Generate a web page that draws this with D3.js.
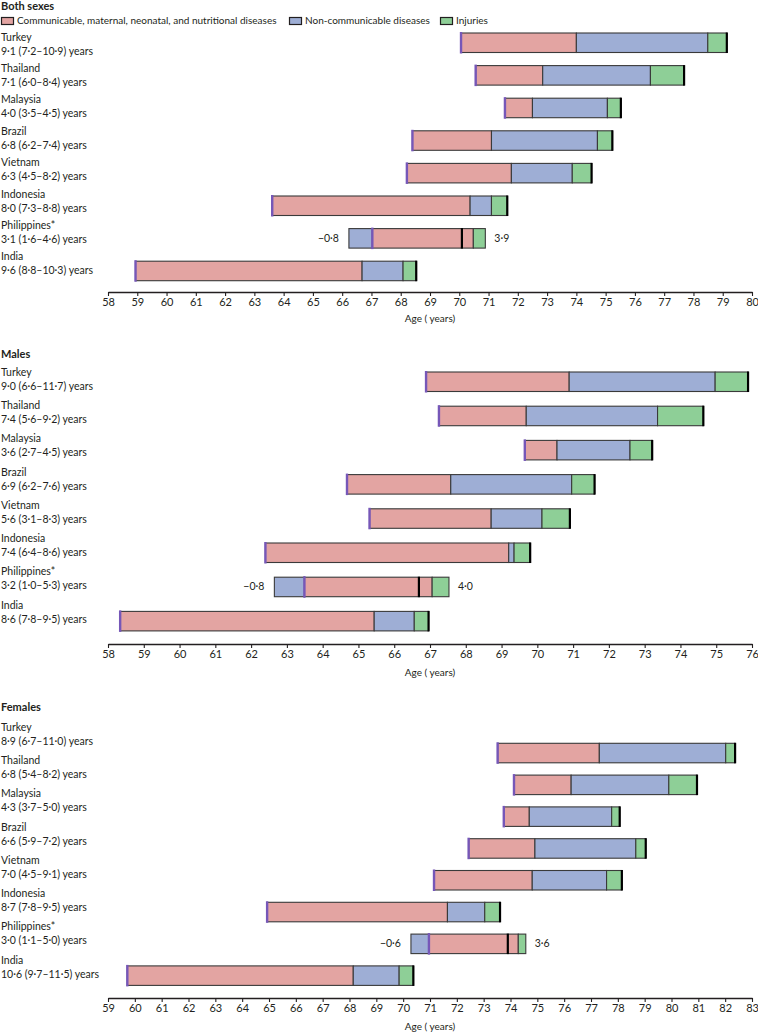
<!DOCTYPE html>
<html><head><meta charset="utf-8">
<script src="https://cdn.jsdelivr.net/npm/d3@7"></script>
<style>body{margin:0;background:#fff}svg{display:block}text{font-family:Lato,"Open Sans",sans-serif;fill:#231f20}</style>
</head><body><svg id="c" width="758" height="1034"></svg>
<script>
const countries = ["Turkey","Thailand","Malaysia","Brazil","Vietnam","Indonesia","Philippines*","India"];
const seriesNames = ["Communicable, maternal, neonatal, and nutritional diseases","Non-communicable diseases","Injuries"];
const colors = ["#e3a4a2","#9eaed5","#8ecf97"];

// Both sexes
const bothStart = [70.06,70.56,71.56,68.40,68.21,63.61,67.03,58.94];
const bothComm  = [3.94,2.29,0.94,2.70,3.57,6.76,3.45,7.74];
const bothNcd   = [4.49,3.68,2.56,3.62,2.08,0.73,-0.80,1.40];
const bothInj   = [0.65,1.15,0.46,0.51,0.66,0.54,0.41,0.45];
const bothYears = ["9·1 (7·2–10·9) years","7·1 (6·0–8·4) years","4·0 (3·5–4·5) years","6·8 (6·2–7·4) years","6·3 (4·5–8·2) years","8·0 (7·3–8·8) years","3·1 (1·6–4·6) years","9·6 (8·8–10·3) years"];
const bothTicks = d3.range(58,81);

// Males
const maleStart = [66.89,67.25,69.65,64.68,65.31,62.40,63.49,58.34];
const maleComm  = [4.00,2.44,0.90,2.90,3.40,6.80,3.57,7.10];
const maleNcd   = [4.08,3.67,2.04,3.38,1.42,0.15,-0.84,1.12];
const maleInj   = [0.92,1.28,0.62,0.64,0.78,0.45,0.47,0.40];
const maleYears = ["9·0 (6·6–11·7) years","7·4 (5·6–9·2) years","3·6 (2·7–4·5) years","6·9 (6·2–7·6) years","5·6 (3·1–8·3) years","7·4 (6·4–8·6) years","3·2 (1·0–5·3) years","8·6 (7·8–9·5) years"];
const maleTicks = d3.range(58,77);

// Females
const femStart = [73.52,74.13,73.75,72.44,71.15,64.93,70.96,59.72];
const femComm  = [3.79,2.13,0.95,2.47,3.66,6.72,3.33,8.42];
const femNcd   = [4.71,3.64,3.07,3.76,2.77,1.39,-0.67,1.71];
const femInj   = [0.35,1.05,0.30,0.37,0.57,0.57,0.28,0.53];
const femYears = ["8·9 (6·7–11·0) years","6·8 (5·4–8·2)  years","4·3 (3·7–5·0) years","6·6 (5·9–7·2) years","7·0 (4·5–9·1) years","8·7 (7·8–9·5) years","3·0 (1·1–5·0) years","10·6 (9·7–11·5) years"];
const femTicks = d3.range(59,84);

// Philippines annotations (negative / positive totals)
const negLabels = ["−0·8","−0·8","−0·6"];
const posLabels = ["3·9","4·0","3·6"];

const panels = [
  {title:"Both sexes", start:bothStart, comm:bothComm, ncd:bothNcd, inj:bothInj, years:bothYears, ticks:bothTicks,
   titleY:7.5, axisY:292, bar0:33, barStep:32.6, lab0:38, labStep:31.4, legend:true, ageDy:27},
  {title:"Males", start:maleStart, comm:maleComm, ncd:maleNcd, inj:maleInj, years:maleYears, ticks:maleTicks,
   titleY:355, axisY:644, bar0:372, barStep:34.2, lab0:373, labStep:33.3, ageDy:29},
  {title:"Females", start:femStart, comm:femComm, ncd:femNcd, inj:femInj, years:femYears, ticks:femTicks,
   titleY:708, axisY:998, bar0:743.3, barStep:31.8, lab0:728, labStep:33.3, ageDy:29}
];

const svg = d3.select("#c");
const barH = 19.5;
const FS = 10.5;

panels.forEach((p, pi) => {
  const g = svg.append("g");
  const x = d3.scaleLinear().domain([p.ticks[0], p.ticks[p.ticks.length-1]]).range([108, 752]);
  const yBar = d3.scaleLinear().domain([0,1]).range([p.bar0, p.bar0 + p.barStep]);
  const yLab = d3.scaleLinear().domain([0,1]).range([p.lab0, p.lab0 + p.labStep]);

  g.append("text").attr("x",1).attr("y",p.titleY).attr("font-weight","bold").attr("font-size",FS+0.5)
    .attr("dominant-baseline","middle").text(p.title);

  if (p.legend) {
    const lx = [1, 289, 440];
    seriesNames.forEach((s,i)=>{
      g.append("rect").attr("x",lx[i]+0.5).attr("y",17.5).attr("width",12).attr("height",7)
        .attr("fill",colors[i]).attr("stroke","#231f20").attr("stroke-width",1.2);
      g.append("text").attr("x",lx[i]+16).attr("y",21.5).attr("font-size",10).attr("dominant-baseline","middle").text(s);
    });
  }

  countries.forEach((c,i)=>{
    g.append("text").attr("x",1).attr("y",yLab(i)).attr("font-size",FS).attr("dominant-baseline","middle").text(c);
    g.append("text").attr("x",1).attr("y",yLab(i)+14).attr("font-size",FS).attr("dominant-baseline","middle").text(p.years[i]);

    const s = p.start[i];
    const vals = [p.comm[i], p.ncd[i], p.inj[i]];
    let pos = s, neg = s;
    const segs = [];
    vals.forEach((v,k)=>{
      if (v >= 0) { segs.push({a:pos, b:pos+v, k}); pos += v; }
      else { segs.push({a:neg+v, b:neg, k}); neg += v; }
    });
    const top = yBar(i);
    segs.forEach(sg=>{
      g.append("rect").attr("x",x(sg.a)).attr("y",top).attr("width",Math.max(0,x(sg.b)-x(sg.a))).attr("height",barH)
        .attr("fill",colors[sg.k]).attr("stroke","#3a3a3a").attr("stroke-width",1.1);
    });
    const net = s + vals.reduce((a,b)=>a+b,0);
    g.append("line").attr("x1",x(net)).attr("x2",x(net)).attr("y1",top-0.5).attr("y2",top+barH+0.5)
      .attr("stroke","#000").attr("stroke-width",2.2);
    g.append("line").attr("x1",x(s)).attr("x2",x(s)).attr("y1",top-1).attr("y2",top+barH+1)
      .attr("stroke","#7657b8").attr("stroke-width",2.4);
    if (neg < s) {
      g.append("text").attr("x",x(neg)-10).attr("y",top+barH/2+0.5).attr("font-size",FS).attr("text-anchor","end")
        .attr("dominant-baseline","middle").text(negLabels[pi]);
      g.append("text").attr("x",x(pos)+9).attr("y",top+barH/2+0.5).attr("font-size",FS)
        .attr("dominant-baseline","middle").text(posLabels[pi]);
    }
  });

  const axis = d3.axisBottom(x).tickValues(p.ticks).tickFormat(d3.format("d")).tickSize(4).tickSizeOuter(0);
  const ag = g.append("g").attr("transform",`translate(0,${p.axisY})`).call(axis);
  ag.select(".domain").attr("stroke","#231f20").attr("stroke-width",1.4);
  ag.selectAll(".tick line").attr("stroke","#231f20").attr("stroke-width",1.1);
  ag.selectAll(".tick text").attr("font-size",FS+0.5).attr("font-family","Lato,'Open Sans',sans-serif").attr("fill","#231f20").attr("dy","0.6em");
  g.append("text").attr("x",430).attr("y",p.axisY+p.ageDy).attr("font-size",FS-0.5).attr("text-anchor","middle")
    .attr("dominant-baseline","middle").text("Age ( years)");
});
</script></body></html>
